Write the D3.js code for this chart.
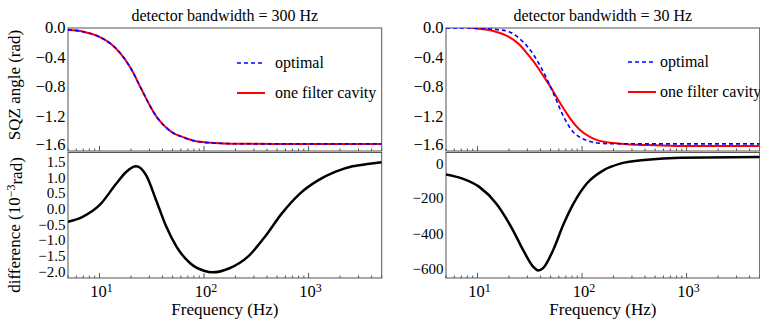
<!DOCTYPE html>
<html><head><meta charset="utf-8">
<script src="https://cdn.jsdelivr.net/npm/d3@7"></script>
<style>body{margin:0;background:#fff}svg{display:block}text{font-family:"Liberation Serif","Times New Roman",serif;fill:#000}</style>
</head><body><svg id="c" width="760" height="319"></svg>
<script>
// ---------- data ----------
const titles = ["detector bandwidth = 300 Hz", "detector bandwidth = 30 Hz"];
const legendLabels = ["optimal", "one filter cavity"];
const xTickExps = [1, 2, 3];
const topTicks = [0.0, -0.4, -0.8, -1.2, -1.6];
const diffLeftTicks = [1.5, 1.0, 0.5, 0.0, -0.5, -1.0, -1.5, -2.0];
const diffRightTicks = [0, -200, -400, -600];

// left top (300 Hz)
const fTopL = [5, 7, 10, 13, 16, 20, 25, 30, 35, 40, 50, 63, 80, 100, 150, 200, 500, 5000];
const optL =  [-0.025, -0.05, -0.12, -0.22, -0.35, -0.55, -0.82, -1.04, -1.20, -1.30, -1.42, -1.48, -1.53, -1.55, -1.565, -1.57, -1.571, -1.571];
const cavL =  [-0.025, -0.05, -0.12, -0.22, -0.35, -0.55, -0.82, -1.04, -1.20, -1.30, -1.42, -1.48, -1.53, -1.55, -1.565, -1.57, -1.572, -1.572];

// right top (30 Hz)
const fOptR = [5, 8, 10, 15, 20, 25, 30, 35, 40, 45, 50, 55, 60, 70, 80, 95, 120, 140, 200, 500, 5000];
const optR =  [0, 0, -0.005, -0.02, -0.05, -0.14, -0.25, -0.38, -0.52, -0.66, -0.80, -0.93, -1.06, -1.26, -1.39, -1.48, -1.54, -1.56, -1.57, -1.571, -1.571];
const fCavR = [5, 7, 9, 12, 15, 20, 25, 30, 35, 40, 45, 50, 55, 60, 70, 80, 95, 120, 140, 200, 300, 500, 1000, 5000];
const cavR =  [0.06, 0.03, 0.0, -0.02, -0.05, -0.12, -0.22, -0.35, -0.47, -0.59, -0.70, -0.80, -0.90, -0.99, -1.14, -1.26, -1.38, -1.48, -1.52, -1.56, -1.58, -1.59, -1.60, -1.60];

// difference (1e-3 rad)
const fDiffL = [5, 6.9, 10, 14.5, 18, 22.4, 28, 34.8, 43.6, 54.5, 73.7, 100, 120, 175, 263, 381, 555, 826, 1230, 1790, 2630, 3830, 5000];
const diffL =  [-0.41, -0.25, 0.12, 0.81, 1.18, 1.36, 1.07, 0.28, -0.57, -1.20, -1.73, -1.97, -2.02, -1.89, -1.52, -0.89, -0.14, 0.49, 0.91, 1.18, 1.36, 1.44, 1.49];
const fDiffR = [5, 7.2, 10.4, 15.1, 21.8, 27.3, 34, 38, 42.4, 53, 66, 83, 111, 160, 232, 419, 875, 5000];
const diffR =  [-64, -88, -135, -229, -380, -493, -587, -609, -596, -493, -352, -229, -116, -41, -3, 19, 30, 34];

// ---------- layout ----------
const svg = d3.select("#c");
const panels = [{x0: 68, x1: 381.7}, {x0: 446, x1: 759.7}];
const topY = [28, 151], botY = [152.5, 278];
const FS = 16.5;

function xTicks(g, x, yBot) {
  const ticks = [];
  for (let e = 0; e <= 3; e++) for (let m = 1; m <= 9; m++) {
    const v = m * Math.pow(10, e);
    if (v >= 5 && v <= 5000) ticks.push({v, major: m === 1});
  }
  g.selectAll(null).data(ticks).enter().append("line")
    .attr("x1", d => x(d.v)).attr("x2", d => x(d.v))
    .attr("y1", yBot).attr("y2", d => yBot - (d.major ? 5 : 2.5))
    .attr("stroke", "#555").attr("stroke-width", 1);
}

const line = (x, y) => d3.line().x(d => x(d[0])).y(d => y(d[1])).curve(d3.curveMonotoneX);
const zip = (a, b) => a.map((v, i) => [v, b[i]]);

panels.forEach((p, i) => {
  const x = d3.scaleLog().domain([5, 5000]).range([p.x0, p.x1]);
  const yT = d3.scaleLinear().domain([-1.668, 0]).range([topY[1], topY[0]]);
  const yB = i === 0 ? d3.scaleLinear().domain([-2.2, 1.8]).range([botY[1], botY[0]])
                     : d3.scaleLinear().domain([-652, 60]).range([botY[1], botY[0]]);
  const id = "clip" + i;
  const defs = svg.append("defs");
  defs.append("clipPath").attr("id", id + "t").append("rect")
    .attr("x", p.x0).attr("y", topY[0]).attr("width", p.x1 - p.x0).attr("height", topY[1] - topY[0]);
  defs.append("clipPath").attr("id", id + "b").append("rect")
    .attr("x", p.x0).attr("y", botY[0]).attr("width", p.x1 - p.x0).attr("height", botY[1] - botY[0]);

  [[topY[0], topY[1]], [botY[0], botY[1]]].forEach(([a, b]) => {
    svg.append("rect").attr("x", p.x0).attr("y", a).attr("width", p.x1 - p.x0).attr("height", b - a)
      .attr("fill", "none").attr("stroke", "#555").attr("stroke-width", 1);
  });
  xTicks(svg.append("g"), x, topY[1]);
  xTicks(svg.append("g"), x, botY[1]);

  const fmtTop = v => (v < 0 ? "\u2212" : "") + Math.abs(v).toFixed(1);
  svg.append("g").selectAll("text").data(topTicks).enter().append("text")
    .attr("x", p.x0 - 2.5).attr("y", d => yT(d) - (d === -1.6 ? 1 : 0)).attr("dy", "0.33em")
    .attr("text-anchor", "end").style("font-size", FS + "px").text(fmtTop);
  const bt = i === 0 ? diffLeftTicks : diffRightTicks;
  const fmtB = i === 0 ? fmtTop : (v => (v < 0 ? "\u2212" : "") + Math.abs(v));
  svg.append("g").selectAll("text").data(bt).enter().append("text")
    .attr("x", p.x0 - 2.5).attr("y", d => yB(d) + (i === 1 && d === 0 ? 1 : 0)).attr("dy", "0.33em")
    .attr("text-anchor", "end").style("font-size", "15px").text(fmtB);

  const xl = svg.append("g").selectAll("text").data(xTickExps).enter().append("text")
    .attr("x", d => x(Math.pow(10, d)) + 2).attr("y", 297)
    .attr("text-anchor", "middle").style("font-size", FS + "px");
  xl.append("tspan").text("10");
  xl.append("tspan").attr("dy", "-0.45em").style("font-size", "12px").text(d => d);

  svg.append("text").attr("x", (p.x0 + p.x1) / 2)
    .attr("y", 315).attr("text-anchor", "middle").style("font-size", "17px").text("Frequency (Hz)");

  svg.append("text").attr("x", (p.x0 + p.x1) / 2).attr("y", 21)
    .attr("text-anchor", "middle").style("font-size", "16px").text(titles[i]);

  const fT = i === 0 ? fTopL : fOptR;
  const opt = i === 0 ? optL : optR;
  const fC = i === 0 ? fTopL : fCavR;
  const cav = i === 0 ? cavL : cavR;
  const gt = svg.append("g").attr("clip-path", `url(#${id}t)`);
  gt.append("path").attr("d", line(x, yT)(zip(fC, cav))).attr("fill", "none")
    .attr("stroke", "#ff0000").attr("stroke-width", 2);
  gt.append("path").attr("d", line(x, yT)(zip(fT, opt))).attr("fill", "none")
    .attr("stroke", "#0000ff").attr("stroke-width", 1.6).attr("stroke-dasharray", "4,3");
  const gb = svg.append("g").attr("clip-path", `url(#${id}b)`);
  gb.append("path").attr("d", line(x, yB)(i === 0 ? zip(fDiffL, diffL) : zip(fDiffR, diffR)))
    .attr("fill", "none").attr("stroke", "#000").attr("stroke-width", 2.5);

  const lx = i === 0 ? 237 : 628;
  const ly = i === 0 ? [63, 93] : [62, 92];
  svg.append("line").attr("x1", lx).attr("x2", lx + 28).attr("y1", ly[0]).attr("y2", ly[0])
    .attr("stroke", "#0000ff").attr("stroke-width", 1.6).attr("stroke-dasharray", "4,3");
  svg.append("line").attr("x1", lx).attr("x2", lx + 28).attr("y1", ly[1]).attr("y2", ly[1])
    .attr("stroke", "#ff0000").attr("stroke-width", 2);
  legendLabels.forEach((t, k) => svg.append("text").attr("x", lx + 38 - (i === 0 ? 0 : 6)).attr("y", ly[k]).attr("dy", "0.33em")
    .style("font-size", "16px").text(t));
});

svg.append("text").attr("transform", "translate(20,85) rotate(-90)").attr("text-anchor", "middle")
  .style("font-size", "17px").text("SQZ angle (rad)");
const yl = svg.append("text").attr("transform", "translate(20,225) rotate(-90)").attr("text-anchor", "middle")
  .style("font-size", "17px");
yl.append("tspan").text("difference (10");
yl.append("tspan").attr("dy", "-0.45em").style("font-size", "12px").text("\u22123");
yl.append("tspan").attr("dy", "0.45em").text("rad)");
</script></body></html>
